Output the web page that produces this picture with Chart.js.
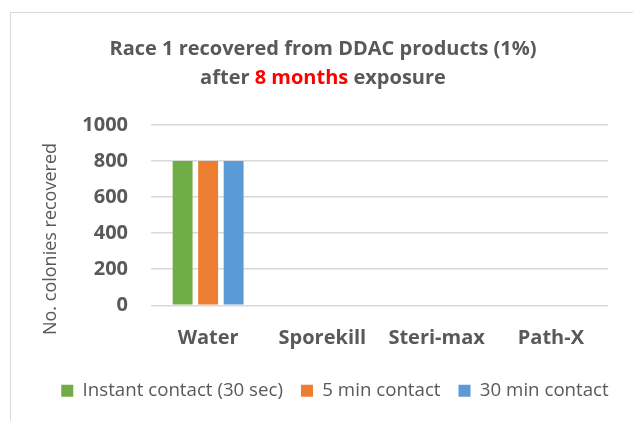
<!DOCTYPE html>
<html lang="en">
<head>
    <meta charset="UTF-8">
    <title>Race 1 recovered from DDAC products (1%)</title>
    <script src="https://cdn.jsdelivr.net/npm/chart.js"></script>
    <style>
        body {
            margin: 0;
            background: white;
            overflow: hidden;
        }
        #frame {
            position: absolute;
            left: 10px;
            top: 12px;
            width: 700px;
            height: 500px;
            border: 1.5px solid #d9d9d9;
        }
        #chart {
            position: absolute;
            left: 0;
            top: 0;
        }
    </style>
</head>
<body>

<div id="frame"></div>
<canvas id="chart" width="633" height="421"></canvas>

<script>
    // data
    const products = ['Water', 'Sporekill', 'Steri-max', 'Path-X'];
    const instantContact = [800, 0, 0, 0];
    const fiveMinContact = [800, 0, 0, 0];
    const thirtyMinContact = [800, 0, 0, 0];
    const yTicks = [0, 200, 400, 600, 800, 1000];

    const titleLine1 = 'Race 1 recovered from DDAC products (1%)';
    const titleLine2 = ['after ', '8 months', ' exposure'];
    const yTitle = 'No. colonies recovered';

    const grey = '#595959';
    const fontName = '"Open Sans", sans-serif';

    // title with a red part + y axis title, drawn on the canvas
    const textPlugin = {
        id: 'textPlugin',
        afterLayout(chart) {
            // legend sits a bit right of centre in the original
            if (chart.legend) {
                chart.legend.left += 31;
                chart.legend.right += 31;
            }
        },
        afterDraw(chart) {
            const ctx = chart.ctx;
            ctx.save();
            ctx.textBaseline = 'middle';
            ctx.font = 'bold 20px ' + fontName;
            ctx.fillStyle = grey;
            ctx.textAlign = 'center';
            ctx.fillText(titleLine1, 323, 49);

            // second line, three pieces, middle one red
            ctx.textAlign = 'left';
            const widths = titleLine2.map(t => ctx.measureText(t).width);
            let x = 323 - widths.reduce((a, b) => a + b, 0) / 2;
            titleLine2.forEach((t, i) => {
                ctx.fillStyle = i === 1 ? '#FF0000' : grey;
                ctx.fillText(t, x, 78);
                x += widths[i];
            });

            // rotated axis title
            ctx.translate(51, 239);
            ctx.rotate(-Math.PI / 2);
            ctx.textAlign = 'center';
            ctx.font = '18px ' + fontName;
            ctx.fillStyle = grey;
            ctx.fillText(yTitle, 0, 0);
            ctx.restore();
        }
    };

    const ctx = document.getElementById('chart').getContext('2d');
    new Chart(ctx, {
        type: 'bar',
        data: {
            labels: products,
            datasets: [
                { label: 'Instant contact (30 sec)', data: instantContact, backgroundColor: '#70AD47' },
                { label: '5 min contact', data: fiveMinContact, backgroundColor: '#ED7D31' },
                { label: '30 min contact', data: thirtyMinContact, backgroundColor: '#5B9BD5' }
            ]
        },
        options: {
            responsive: false,
            animation: false,
            layout: {
                padding: { top: 125, right: 25, bottom: 11, left: 0 }
            },
            datasets: {
                bar: {
                    categoryPercentage: 0.67,
                    barPercentage: 0.78
                }
            },
            scales: {
                x: {
                    grid: { display: false },
                    border: { display: false },
                    ticks: {
                        color: grey,
                        font: { family: fontName, size: 20, weight: 'bold' },
                        padding: 13
                    },
                    afterFit: s => { s.height = 58; }
                },
                y: {
                    min: 0,
                    max: 1000,
                    afterBuildTicks: s => { s.ticks = yTicks.map(v => ({ value: v })); },
                    grid: { color: '#d9d9d9', lineWidth: 1.5, drawTicks: false },
                    border: { display: false },
                    ticks: {
                        color: grey,
                        font: { family: fontName, size: 20, weight: 'bold' },
                        padding: 23,
                        callback: v => String(v)
                    },
                    afterFit: s => { s.width = 151; }
                }
            },
            plugins: {
                title: { display: false },
                tooltip: { enabled: false },
                legend: {
                    position: 'bottom',
                    labels: {
                        color: grey,
                        font: { family: fontName, size: 18.7 },
                        boxWidth: 12,
                        boxHeight: 12,
                        padding: 18
                    }
                }
            }
        },
        plugins: [textPlugin]
    });
</script>

</body>
</html>
